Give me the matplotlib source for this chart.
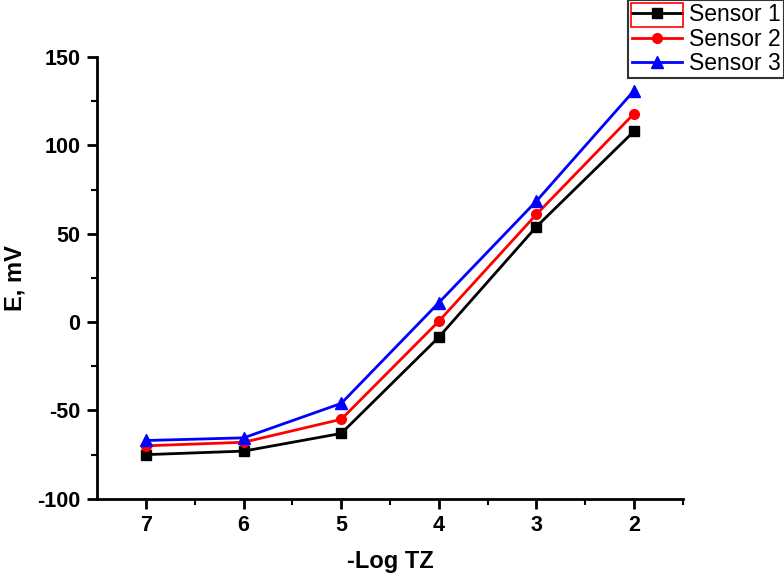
import matplotlib
matplotlib.use("Agg")
import matplotlib.pyplot as plt
from matplotlib.patches import Rectangle

plt.rcParams['font.family'] = ['Liberation Sans', 'DejaVu Sans']
plt.rcParams['axes.unicode_minus'] = False

# data
log_tz = [7, 6, 5, 4, 3, 2]
sensor1 = [-75, -73, -63, -8.5, 54, 108]
sensor2 = [-70, -68, -55, 0.5, 61, 118]
sensor3 = [-67, -65.5, -46, 11, 68.5, 131]

fig = plt.figure(figsize=(7.84, 5.76), dpi=100)
ax = fig.add_axes([0.124, 0.134, 0.747, 0.767])

ax.plot(log_tz, sensor1, color='black', marker='s', ms=7, lw=2, label='Sensor 1')
ax.plot(log_tz, sensor2, color='red', marker='o', ms=7, lw=2, label='Sensor 2')
ax.plot(log_tz, sensor3, color='blue', marker='^', ms=8, lw=2, label='Sensor 3')

ax.set_xlim(7.5, 1.5)
ax.set_ylim(-100, 150)
ax.set_xticks([7, 6, 5, 4, 3, 2])
ax.set_xticks([6.5, 5.5, 4.5, 3.5, 2.5, 1.5], minor=True)
ax.set_yticks([-100, -50, 0, 50, 100, 150])
ax.set_yticks([-75, -25, 25, 75, 125], minor=True)

for side in ['top', 'right']:
    ax.spines[side].set_visible(False)
for side in ['left', 'bottom']:
    ax.spines[side].set_linewidth(2)

ax.tick_params(which='major', length=7, width=2, labelsize=15.5, pad=5)
ax.tick_params(which='minor', length=4, width=1.5)
for lbl in ax.get_xticklabels() + ax.get_yticklabels():
    lbl.set_fontweight('bold')

ax.set_xlabel('-Log TZ', fontsize=17, fontweight='bold', labelpad=10)
ax.set_ylabel('E, mV', fontsize=17, fontweight='bold')
ax.yaxis.set_label_coords(-0.12, 0.5)

leg = fig.legend(loc='upper right', bbox_to_anchor=(1.0, 1.0), fontsize=16.5,
                 frameon=True, fancybox=False, edgecolor='black',
                 borderpad=0.15, labelspacing=0.05, handlelength=2.2,
                 handletextpad=0.3, borderaxespad=0.0)
leg.get_frame().set_linewidth(1.5)

# red selection box around the first legend handle, as in the source image
fig.canvas.draw()
bb = leg.get_window_extent()
W, H = fig.bbox.width, fig.bbox.height
fig.patches.append(Rectangle(((bb.x0 + 3) / W, (bb.y1 - 27) / H), 52 / W, 24 / H,
                             transform=fig.transFigure, fill=False,
                             edgecolor='red', lw=1.2, zorder=10))

fig.savefig('out.png', dpi=100)
